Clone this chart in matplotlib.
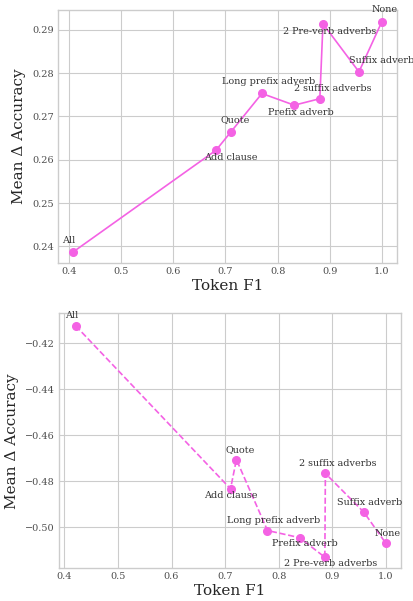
import matplotlib

matplotlib.use("Agg")
import matplotlib.pyplot as plt

# perturbation types and scores for the two models
top_labels = ["All", "Add clause", "Quote", "Long prefix adverb", "Prefix adverb",
              "2 suffix adverbs", "2 Pre-verb adverbs", "Suffix adverb", "None"]
top_f1 = [0.408, 0.682, 0.711, 0.770, 0.832, 0.881, 0.887, 0.956, 1.0]
top_acc = [0.2387, 0.2622, 0.2665, 0.2753, 0.2726, 0.2741, 0.2914, 0.2803, 0.2919]

bottom_labels = ["All", "Add clause", "Quote", "Long prefix adverb", "Prefix adverb",
                 "2 Pre-verb adverbs", "2 suffix adverbs", "Suffix adverb", "None"]
bottom_f1 = [0.421, 0.710, 0.721, 0.779, 0.839, 0.886, 0.887, 0.959, 1.0]
bottom_acc = [-0.4125, -0.4833, -0.4706, -0.5014, -0.5045, -0.5130, -0.4766, -0.4935, -0.5070]

# label offsets in points (dx, dy), placed to avoid overlaps
top_offsets = [(-3, 8.5), (11, -5.5), (3, 9), (5, 8.7), (5, -5.3),
               (9, 7.4), (5, -5.8), (16, 8.2), (2, 8.7)]
bottom_offsets = [(-3, 7.2), (0, -4.5), (3, 7.2), (4.7, 7.2), (4, -4.5),
                  (4.3, -4.5), (9, 7.2), (4, 7), (1.3, 7.4)]

COLOR = "#f462e4"

plt.style.use("seaborn-v0_8-whitegrid")
plt.rcParams["font.family"] = ["DejaVu Serif"]
plt.rcParams["axes.edgecolor"] = ".8"
plt.rcParams["axes.linewidth"] = 1.0
plt.rcParams["grid.color"] = ".8"

fig = plt.figure(figsize=(4.14, 6.01), dpi=100)
ax1 = fig.add_axes([0.140, 0.562, 0.819, 0.4215])
ax2 = fig.add_axes([0.1425, 0.0544, 0.826, 0.4243])


def draw(ax, f1, acc, labels, offsets, ls):
    ax.plot(f1, acc, color=COLOR, linestyle=ls, linewidth=1.2,
            marker="o", markersize=5.5)
    for x, y, name, (dx, dy) in zip(f1, acc, labels, offsets):
        ax.annotate(name, (x, y), xytext=(dx, dy), textcoords="offset points",
                    ha="center", va="center", fontsize=6.9, color=".2")
    ax.set_xlabel("Token F1", fontsize=11, color=".15", labelpad=2)
    ax.set_ylabel("Mean \u0394 Accuracy", fontsize=11, color=".15", labelpad=4)
    ax.tick_params(labelsize=7, colors=".3", pad=3)
    ax.set_xticks([0.4, 0.5, 0.6, 0.7, 0.8, 0.9, 1.0])
    for s in ax.spines.values():
        s.set_visible(True)
        s.set_color(".8")


draw(ax1, top_f1, top_acc, top_labels, top_offsets, "-")
ax1.set_xlim(0.379, 1.029)
ax1.set_ylim(0.2361, 0.2946)
ax1.set_yticks([0.24, 0.25, 0.26, 0.27, 0.28, 0.29])

draw(ax2, bottom_f1, bottom_acc, bottom_labels, bottom_offsets, "--")
ax2.set_xlim(0.390, 1.028)
ax2.set_ylim(-0.5178, -0.4071)
ax2.set_yticks([-0.50, -0.48, -0.46, -0.44, -0.42])

fig.savefig("out.png", dpi=100)
